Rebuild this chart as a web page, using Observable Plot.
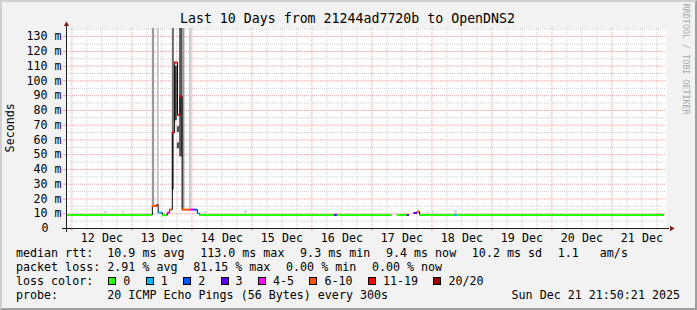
<!DOCTYPE html>
<html><head><meta charset="utf-8">
<script src="https://cdn.jsdelivr.net/npm/d3@7"></script>
<script src="https://cdn.jsdelivr.net/npm/@observablehq/plot@0.6"></script>
<style>
html,body{margin:0;padding:0;background:#f2f2f2;}
#wrap{position:relative;width:697px;height:310px;background:#f2f2f2;overflow:hidden;font-family:"DejaVu Sans Mono",monospace;color:#000;}
#wrap svg{position:absolute;left:0;top:0;}
.frame{position:absolute;left:0;top:0;width:697px;height:310px;box-sizing:border-box;border-top:2px solid #cfcfcf;border-left:2px solid #cfcfcf;border-right:2px solid #9e9e9e;border-bottom:2px solid #9e9e9e;pointer-events:none;}
.t{position:absolute;white-space:pre;line-height:1;}
.row{position:absolute;left:16px;white-space:pre;line-height:1;font-size:11.66px;}
.lab{display:inline-block;width:91.3px;}
.seg{display:inline-block;margin-left:15.7px;}
.seg.first{margin-left:0;}
.box{display:inline-block;width:8px;height:8px;box-sizing:border-box;border:1px solid #000;margin-left:15.4px;}
.box.first{margin-left:1px;}
.bl{display:inline-block;margin-left:7px;}
</style>
</head><body>
<div id="wrap"></div>
<script>
// ---------- data ----------
const titleText = "Last 10 Days from 21244ad7720b to OpenDNS2";
const yAxisLabel = "Seconds";
const watermark = "RRDTOOL / TOBI OETIKER";
const startTime = "2025-12-11T21:50:21Z";
const endTime = "2025-12-21T21:50:21Z";
const yMax = 135.5;

const yTicks = [0,10,20,30,40,50,60,70,80,90,100,110,120,130];
const yTickLabels = ["0","10 m","20 m","30 m","40 m","50 m","60 m","70 m","80 m","90 m","100 m","110 m","120 m","130 m"];
const xTickDays = ["2025-12-12T12:00Z","2025-12-13T12:00Z","2025-12-14T12:00Z","2025-12-15T12:00Z","2025-12-16T12:00Z","2025-12-17T12:00Z","2025-12-18T12:00Z","2025-12-19T12:00Z","2025-12-20T12:00Z","2025-12-21T12:00Z"];
const xTickLabels = ["12 Dec","13 Dec","14 Dec","15 Dec","16 Dec","17 Dec","18 Dec","19 Dec","20 Dec","21 Dec"];

const lossNames = ["0","1","2","3","4-5","6-10","11-19","20/20"];
const lossColors = ["#26ff00","#00b8ff","#0059ff","#5e00ff","#ff00ff","#ff5500","#ff0000","#a10000"];

// median rtt (ms), step start times, loss bucket index
const medTimes = ["2025-12-11T21:50Z","2025-12-13T08:10Z","2025-12-13T10:00Z","2025-12-13T10:30Z","2025-12-13T12:10Z","2025-12-13T14:10Z","2025-12-13T15:00Z","2025-12-13T16:10Z","2025-12-13T17:05Z","2025-12-13T18:15Z","2025-12-13T19:15Z","2025-12-13T20:05Z","2025-12-13T23:05Z","2025-12-14T00:48Z","2025-12-14T02:10Z","2025-12-14T03:05Z","2025-12-16T09:05Z","2025-12-16T10:10Z","2025-12-17T08:10Z","2025-12-17T10:10Z","2025-12-17T14:10Z","2025-12-17T15:05Z","2025-12-17T16:50Z","2025-12-17T18:10Z","2025-12-17T19:05Z","2025-12-18T09:05Z","2025-12-18T10:10Z"];
const medValues = [9.2,15.3,16.0,10.8,9.0,10.6,12.8,65,112.5,77,89.6,12.8,12.8,12.8,10.3,9.2,9.2,9.2,null,9.2,9.2,null,10.5,11.5,9.2,9.2,9.2];
const medLoss   = [0,5,6,1,0,4,5,6,6,6,6,5,4,2,1,0,3,0,0,0,3,0,3,5,0,1,0];
const medEnd = "2025-12-21T20:50Z";

// smoke (ping spread) blocks: time range, low/high ms, density 0..1
const smokeStart   = ["2025-12-13T08:10Z","2025-12-13T10:10Z","2025-12-13T16:10Z","2025-12-13T19:05Z","2025-12-13T20:17Z","2025-12-13T23:05Z","2025-12-13T17:12Z","2025-12-13T18:10Z","2025-12-13T18:10Z","2025-12-12T12:58Z","2025-12-12T20:10Z","2025-12-14T05:05Z","2025-12-14T21:05Z","2025-12-17T22:10Z","2025-12-18T00:10Z","2025-12-18T09:05Z"];
const smokeEnd     = ["2025-12-13T09:05Z","2025-12-13T11:00Z","2025-12-13T17:00Z","2025-12-13T20:17Z","2025-12-13T21:12Z","2025-12-14T00:00Z","2025-12-13T18:10Z","2025-12-13T19:05Z","2025-12-13T19:05Z","2025-12-12T14:18Z","2025-12-12T21:00Z","2025-12-14T06:10Z","2025-12-14T22:10Z","2025-12-17T23:05Z","2025-12-18T01:05Z","2025-12-18T10:10Z"];
const smokeLow     = [15.3,15.5,26,48.5,12.4,12.4,73,65,54,9.6,9.6,9.6,9.6,9.6,9.6,9.6];
const smokeHigh    = [300,300,300,300,300,300,110,69,58,11.3,12,11.3,12.4,11.3,12,12.2];
const smokeDensity = [0.44,0.15,0.71,0.87,0.44,0.13,0.97,0.9,0.9,0.05,0.05,0.05,0.05,0.05,0.05,0.08];

const rttStats = ["10.9 ms avg","113.0 ms max","9.3 ms min","9.4 ms now","10.2 ms sd","1.1   am/s"];
const lossStats = ["2.91 % avg","81.15 % max","0.00 % min","0.00 % now"];
const probeText = "20 ICMP Echo Pings (56 Bytes) every 300s";
const dateText = "Sun Dec 21 21:50:21 2025";

// ---------- build ----------
const x0 = new Date(startTime), x1 = new Date(endTime);
const pxT = (x1 - x0) / 600;            // ms of time per pixel
const pxV = yMax / 200;                 // ms rtt per pixel
const shift = (d, px) => new Date(+d + px * pxT);

const majorX = d3.utcDay.range(new Date("2025-12-12T00:00Z"), x1);
const minorX = d3.utcHour.every(6).range(x0, x1).filter(d => d.getUTCHours() !== 0);
const majorY = yTicks.filter(v => v > 0);
const minorY = d3.range(5, yMax, 10);

const segs = medTimes.map((t, i) => ({
  t0: new Date(t), t1: new Date(i + 1 < medTimes.length ? medTimes[i + 1] : medEnd),
  v: medValues[i], c: lossColors[medLoss[i]]
})).filter(d => d.v != null);
const linePts = medTimes.map((t, i) => ({t: new Date(t), v: medValues[i]}));
linePts.push({t: new Date(medEnd), v: medValues[medValues.length - 1]});

const smoke = smokeStart.map((s, i) => ({
  a: new Date(s), b: new Date(smokeEnd[i]), lo: smokeLow[i], hi: smokeHigh[i],
  f: d3.interpolateRgb("#e0e0e0", "#404040")(smokeDensity[i])
}));

const noon = xTickDays.map(d => new Date(d));
const majC = "#eaa2a2", minC = "#cdcdcd";

const chart = Plot.plot({
  width: 697, height: 310,
  marginLeft: 66, marginRight: 31, marginTop: 28, marginBottom: 82,
  x: {type: "utc", domain: [x0, x1]},
  y: {domain: [0, yMax]},
  style: {background: "transparent", fontFamily: "DejaVu Sans Mono", fontSize: "11.66px", color: "#000", overflow: "visible"},
  marks: [
    Plot.frame({fill: "white", stroke: "none"}),
    Plot.ruleX(minorX, {stroke: minC, strokeDasharray: "1,1"}),
    Plot.ruleY(minorY, {stroke: minC, strokeDasharray: "1,1"}),
    Plot.ruleX(majorX, {stroke: majC, strokeDasharray: "1,1"}),
    Plot.ruleY(majorY, {stroke: majC, strokeDasharray: "1,1"}),
    Plot.rect(smoke, {x1: "a", x2: "b", y1: "lo", y2: "hi", fill: "f", clip: true}),
    Plot.line(linePts, {x: "t", y: "v", curve: "step-after", stroke: "#000", strokeWidth: 1}),
    Plot.ruleY(segs, {y: "v", x1: "t0", x2: "t1", stroke: "c", strokeWidth: 2}),
    // axis ticks
    Plot.ruleY(majorY, {x1: shift(x0, -3), x2: x0, stroke: majC}),
    Plot.ruleX(majorX, {y1: 0, y2: -3 * pxV, stroke: majC}),
    Plot.ruleX(minorX, {y1: 0, y2: -2 * pxV, stroke: minC}),
    // axis lines
    Plot.ruleY([0], {x1: shift(x0, -4), x2: shift(x1, 3), stroke: "#1f1f1f"}),
    Plot.ruleX([x0], {y1: -4 * pxV, y2: 138, stroke: "#1f1f1f"}),
    Plot.dot([0], {x: () => shift(x1, 5), y: 0, symbol: "triangle", r: 2, fill: "#801f1f", stroke: "none", rotate: 90}),
    Plot.dot([0], {x: () => x0, y: 204 * pxV, symbol: "triangle", r: 2, fill: "#801f1f", stroke: "none"}),
    Plot.axisY(majorY, {tickSize: 0, tickPadding: 5, label: null, tickFormat: d => yTickLabels[yTicks.indexOf(d)]}),
    Plot.axisY([0], {tickSize: 0, tickPadding: 5, dx: -13, label: null, tickFormat: d => yTickLabels[yTicks.indexOf(d)]}),
    Plot.axisX(noon, {tickSize: 0, tickPadding: 5, label: null, tickFormat: d => xTickLabels[noon.findIndex(n => +n === +d)]})
  ]
});

const wrap = document.getElementById("wrap");
wrap.appendChild(chart);

function addText(txt, css) {
  const el = document.createElement("div");
  el.className = "t"; el.textContent = txt;
  Object.assign(el.style, css);
  wrap.appendChild(el); return el;
}
const fs = 11.66;
addText(titleText, {left: "0px", width: "695px", textAlign: "center", top: (23 - 0.846 * 13.25) + "px", fontSize: "13.25px"});
addText(yAxisLabel, {left: (11 - 40) + "px", width: "80px", textAlign: "center", top: (128 - fs / 2) + "px", fontSize: fs + "px", transform: "rotate(-90deg)"});
addText(watermark, {left: (686.3 - 60) + "px", width: "120px", textAlign: "center", top: (59.5 - 4.2) + "px", fontSize: "8.4px", color: "#a8a8a8", transform: "rotate(90deg)"});

function row(baseline) {
  const r = document.createElement("div");
  r.className = "row"; r.style.top = (baseline - 0.846 * fs) + "px";
  wrap.appendChild(r); return r;
}
function span(parent, cls, txt) {
  const s = document.createElement("span");
  s.className = cls; if (txt != null) s.textContent = txt;
  parent.appendChild(s); return s;
}
let r1 = row(258); span(r1, "lab", "median rtt:");
rttStats.forEach((s, i) => span(r1, "seg" + (i ? "" : " first"), s));
let r2 = row(272); span(r2, "lab", "packet loss:");
lossStats.forEach((s, i) => span(r2, "seg" + (i ? "" : " first"), s));
let r3 = row(286); span(r3, "lab", "loss color:");
lossNames.forEach((n, i) => {
  const b = span(r3, "box" + (i ? "" : " first"));
  b.style.background = lossColors[i];
  span(r3, "bl", n);
});
let r4 = row(300); span(r4, "lab", "probe:"); span(r4, "seg first", probeText);
const dt = addText(dateText, {right: "17px", top: (300 - 0.846 * fs) + "px", fontSize: fs + "px"});

const fr = document.createElement("div"); fr.className = "frame"; wrap.appendChild(fr);
</script>
</body></html>
